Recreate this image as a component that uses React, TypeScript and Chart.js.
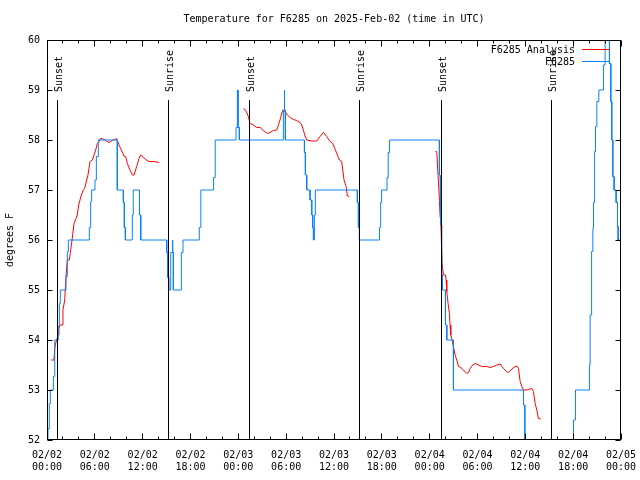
import React, { useEffect, useRef } from "react";
import { Chart, registerables } from "chart.js";

Chart.register(...registerables);

const TITLE = "Temperature for F6285 on 2025-Feb-02 (time in UTC)";
const Y_TITLE = "degrees F";
const SERIES_ANALYSIS = "F6285 Analysis";
const SERIES_OBS = "F6285";

// x is hours since 2025-02-02 00:00 UTC
const xTickDates = ["02/02", "02/02", "02/02", "02/02", "02/03", "02/03", "02/03", "02/03", "02/04", "02/04", "02/04", "02/04", "02/05"];
const xTickTimes = ["00:00", "06:00", "12:00", "18:00", "00:00", "06:00", "12:00", "18:00", "00:00", "06:00", "12:00", "18:00", "00:00"];
const yTickLabels = ["52", "53", "54", "55", "56", "57", "58", "59", "60"];

const sunHours = [1.29, 15.18, 25.38, 39.17, 49.46, 63.26];
const sunLabels = ["Sunset", "Sunrise", "Sunset", "Sunrise", "Sunset", "Sunrise"];

// Observed F6285
const obsHours = [
  0.125, 0.125, 0.29, 0.29, 0.42, 0.42, 0.8, 0.8, 0.92, 0.92, 1.0, 1.0, 1.42, 1.42, 1.55, 1.55, 1.67, 1.67,
  2.38, 2.38, 2.55, 2.55, 2.68, 2.68, 5.31, 5.31, 5.48, 5.48, 5.6, 5.6, 6.02, 6.02, 6.19, 6.19, 6.44, 6.44,
  8.82, 8.82, 9.58, 9.58, 9.7, 9.7, 9.83, 9.83, 10.7, 10.7, 10.82, 10.82, 11.6, 11.6, 11.76, 11.76,
  15.02, 15.02, 15.15, 15.15, 15.27, 15.27, 15.52, 15.52, 15.73, 15.73, 15.78, 15.78, 15.85, 15.85,
  16.85, 16.85, 17.06, 17.06, 19.1, 19.1, 19.3, 19.3, 20.9, 20.9, 21.1, 21.1,
  23.71, 23.71, 23.88, 23.88, 23.96, 23.96, 24.13, 24.13,
  29.65, 29.65, 29.75, 29.75, 29.82, 29.82, 29.9, 29.9,
  32.29, 32.29, 32.41, 32.41, 32.58, 32.58, 33.0, 33.0, 33.21, 33.21, 33.33, 33.33, 33.42, 33.42, 33.54, 33.54, 33.66, 33.66,
  38.93, 38.93, 39.06, 39.06, 39.19, 39.19, 41.7, 41.7, 41.85, 41.85, 41.97, 41.97, 42.65, 42.65, 42.8, 42.8, 42.97, 42.97,
  49.22, 49.22, 49.3, 49.3, 49.42, 49.42, 49.5, 49.5, 49.6, 49.6, 49.98, 49.98, 50.15, 50.15, 50.98, 50.98,
  59.77, 59.77, 59.93, 59.93, 60.1, 65.8, 66.04, 66.04, 66.29, 66.29,
  68.04, 68.04, 68.13, 68.13, 68.26, 68.26, 68.34, 68.34, 68.47, 68.47, 68.55, 68.55, 68.63, 68.63, 68.72, 68.72, 68.8, 68.8,
  68.97, 68.97, 69.22, 69.22, 69.8, 69.8, 70.01, 70.01, 70.22, 70.22, 70.55, 70.55, 70.72, 70.72, 70.84, 70.84, 70.97, 70.97,
  71.14, 71.14, 71.39, 71.39, 71.56, 71.56, 71.64, 71.64, 72.0,
];
const obsTemps = [
  51.8, 52.23, 52.23, 52.73, 52.73, 53, 53, 53.27, 53.27, 53.6, 53.6, 54, 54, 54.27, 54.27, 54.73, 54.73, 55,
  55, 55.27, 55.27, 55.77, 55.77, 56, 56, 56.25, 56.25, 56.77, 56.77, 57, 57, 57.2, 57.2, 57.67, 57.67, 58,
  58, 57, 57, 56.75, 56.75, 56.25, 56.25, 56, 56, 56.5, 56.5, 57, 57, 56.5, 56.5, 56,
  56, 55.75, 55.75, 55.25, 55.25, 55, 55, 55.75, 55.75, 56, 56, 55.75, 55.75, 55,
  55, 55.75, 55.75, 56, 56, 56.25, 56.25, 57, 57, 57.25, 57.25, 58,
  58, 58.25, 58.25, 59, 59, 58.25, 58.25, 58,
  58, 58.6, 58.6, 59, 59, 58.6, 58.6, 58,
  58, 57.75, 57.75, 57.3, 57.3, 57, 57, 56.8, 56.8, 56.5, 56.5, 56.25, 56.25, 56, 56, 56.5, 56.5, 57,
  57, 56.75, 56.75, 56.25, 56.25, 56, 56, 56.25, 56.25, 56.75, 56.75, 57, 57, 57.25, 57.25, 57.75, 57.75, 58,
  58, 57.3, 57.3, 56.8, 56.8, 56.3, 56.3, 55.3, 55.3, 55, 55, 54.3, 54.3, 54, 54, 53,
  53, 52.7, 52.7, 51.5, 51, 51, 51.5, 52.4, 52.4, 53,
  53, 53.5, 53.5, 54.5, 54.5, 55.23, 55.23, 55.77, 55.77, 56.23, 56.23, 56.75, 56.75, 57.27, 57.27, 57.77, 57.77, 58.27,
  58.27, 58.77, 58.77, 59, 59, 59.5, 59.5, 60.2, 60.2, 61, 61, 59.53, 59.53, 58.77, 58.77, 58, 58, 57.27,
  57.27, 57, 57, 56.75, 56.75, 56.27, 56.27, 56, 56,
];

// F6285 Analysis (null = break between runs)
const analysisHours = [
  0.54, 0.87, 1.0, 1.21, 1.4, 1.5, 1.63, 1.92, 2.0, 2.22, 2.38, 2.55, 2.8, 2.97, 3.14, 3.39, 3.64, 3.8, 3.97, 4.14,
  4.31, 4.56, 4.72, 4.98, 5.14, 5.4, 5.69, 5.9, 6.11, 6.31, 6.52, 6.73, 6.94, 7.36, 7.78, 8.2, 8.49, 8.74, 9.03, 9.33,
  9.66, 9.87, 10.08, 10.41, 10.71, 10.92, 11.25, 11.54, 11.75, 12.08, 12.38, 12.8, 13.43, 14.05,
  19.0,
  24.63, 24.9, 25.26, 25.47, 25.9, 26.31, 26.73, 27.14, 27.64, 27.98, 28.4, 28.82, 29.23, 29.57, 29.85, 30.15, 30.49,
  30.91, 31.33, 31.74, 31.95, 32.16, 32.37, 32.58, 33.21, 33.84, 34.25, 34.67, 35.08, 35.51, 35.84, 36.1, 36.35, 36.68,
  36.97, 37.1, 37.26, 37.52, 37.68, 37.93,
  43.0,
  48.73, 48.89, 48.98, 49.1, 49.23, 49.31, 49.4, 49.48, 49.56, 49.73, 49.98, 50.06, 50.15, 50.31, 50.48, 50.56, 50.65,
  50.82, 50.98, 51.19, 51.4, 51.61, 51.9, 52.24, 52.66, 52.87, 53.07, 53.41, 53.7, 54.12, 54.54, 55.17, 55.59, 56.0,
  56.42, 56.84, 57.26, 57.76, 58.09, 58.51, 58.93, 59.14, 59.35, 59.56, 59.77, 60.1, 60.39, 60.81, 61.02, 61.23, 61.44,
  61.64, 61.94,
];
const analysisTemps = [
  53.6, 53.6, 53.88, 54.0, 54.1, 54.23, 54.3, 54.3, 54.6, 54.8, 55.27, 55.6, 55.6, 55.8, 56.0, 56.33, 56.43, 56.5, 56.7, 56.8,
  56.9, 57.0, 57.03, 57.2, 57.3, 57.57, 57.6, 57.7, 57.8, 57.93, 57.97, 58.03, 58.03, 57.99, 57.95, 57.99, 58.01, 58.03, 57.9, 57.8,
  57.68, 57.67, 57.53, 57.4, 57.3, 57.3, 57.47, 57.63, 57.7, 57.65, 57.61, 57.57, 57.57, 57.55,
  null,
  58.63, 58.6, 58.47, 58.33, 58.3, 58.25, 58.25, 58.19, 58.13, 58.15, 58.19, 58.2, 58.4, 58.6, 58.57, 58.5, 58.45,
  58.41, 58.39, 58.35, 58.3, 58.2, 58.08, 58.0, 57.98, 57.98, 58.07, 58.15, 58.07, 57.97, 57.93, 57.83, 57.73, 57.6,
  57.57, 57.4, 57.2, 57.07, 56.88, 56.87,
  null,
  57.77, 57.77, 57.5, 57.17, 56.77, 56.47, 56.4, 55.93, 55.53, 55.3, 55.3, 55.2, 54.97, 54.73, 54.53, 54.3, 54.1,
  54.0, 53.87, 53.7, 53.6, 53.47, 53.45, 53.4, 53.33, 53.35, 53.43, 53.5, 53.53, 53.5, 53.47, 53.47, 53.45, 53.47,
  53.5, 53.52, 53.43, 53.35, 53.38, 53.45, 53.48, 53.43, 53.17, 53.07, 53.0, 53.0, 53.01, 53.03, 52.97, 52.73, 52.6,
  52.43, 52.42,
];

const RED = "#ff0000";
const BLUE = "#0a80ff";
const FONT_FAMILY = "'DejaVu Sans Mono', 'Liberation Mono', monospace";

const zip = (xs: number[], ys: (number | null)[]) => xs.map((x, i) => ({ x, y: ys[i] }));

const decorPlugin = {
  id: "gnuplotDecor",
  afterDatasetsDraw(chart: any) {
    const { ctx, chartArea, scales } = chart;
    const xs = scales.x;
    const ys = scales.y;
    const { left, right, top, bottom } = chartArea;
    ctx.save();
    ctx.lineWidth = 1;
    ctx.strokeStyle = "#000";
    ctx.fillStyle = "#000";
    ctx.font = `10px ${FONT_FAMILY}`;

    // sunrise / sunset markers
    sunHours.forEach((h, i) => {
      const px = Math.floor(xs.getPixelForValue(h)) + 0.5;
      ctx.beginPath();
      ctx.moveTo(px, bottom);
      ctx.lineTo(px, top + 60);
      ctx.stroke();
      ctx.save();
      ctx.translate(px + 1.5, top + 52);
      ctx.rotate(-Math.PI / 2);
      ctx.textAlign = "left";
      ctx.textBaseline = "middle";
      ctx.fillText(sunLabels[i], 0, 0);
      ctx.restore();
    });

    // border
    const bl = Math.floor(left) + 0.5;
    const br = Math.floor(right) - 0.5;
    const bt = Math.floor(top) + 0.5;
    const bb = Math.floor(bottom) - 0.5;
    ctx.strokeRect(bl, bt, br - bl, bb - bt);

    // y ticks (both sides)
    yTickLabels.forEach((lab) => {
      const py = Math.floor(ys.getPixelForValue(Number(lab))) + 0.5;
      ctx.beginPath();
      ctx.moveTo(bl, py);
      ctx.lineTo(bl + 5, py);
      ctx.moveTo(br - 5, py);
      ctx.lineTo(br, py);
      ctx.stroke();
    });
    // x ticks every 2 hours, major every 6
    for (let h = 0; h <= 72; h += 2) {
      const px = Math.floor(xs.getPixelForValue(h)) + 0.5;
      const len = h % 6 === 0 ? 6 : 3;
      ctx.beginPath();
      ctx.moveTo(px, bb);
      ctx.lineTo(px, bb - len);
      ctx.moveTo(px, bt);
      ctx.lineTo(px, bt + len);
      ctx.stroke();
    }

    // legend
    ctx.textAlign = "right";
    ctx.textBaseline = "middle";
    const rows = [
      { label: SERIES_ANALYSIS, color: RED, y: 50 },
      { label: SERIES_OBS, color: BLUE, y: 62 },
    ];
    rows.forEach((r) => {
      ctx.fillStyle = "#000";
      ctx.fillText(r.label, 575, r.y);
      ctx.strokeStyle = r.color;
      ctx.beginPath();
      ctx.moveTo(582, r.y - 0.5);
      ctx.lineTo(610, r.y - 0.5);
      ctx.stroke();
    });

    // title
    ctx.fillStyle = "#000";
    ctx.textAlign = "center";
    ctx.textBaseline = "middle";
    ctx.fillText(TITLE, (left + right) / 2, 19);
    ctx.restore();
  },
};

export default function App() {
  const canvasRef = useRef<HTMLCanvasElement | null>(null);

  useEffect(() => {
    const canvas = canvasRef.current;
    if (!canvas) return;
    const chart = new Chart(canvas, {
      type: "line",
      data: {
        datasets: [
          {
            label: SERIES_OBS,
            data: zip(obsHours, obsTemps),
            borderColor: BLUE,
            borderWidth: 1,
            pointRadius: 0,
            tension: 0,
            fill: false,
            order: 0,
            clip: 0,
          },
          {
            label: SERIES_ANALYSIS,
            data: zip(analysisHours, analysisTemps),
            borderColor: RED,
            borderWidth: 1,
            pointRadius: 0,
            tension: 0,
            fill: false,
            spanGaps: false,
            order: 1,
            clip: 0,
          },
        ],
      },
      options: {
        animation: false,
        responsive: false,
        devicePixelRatio: 1,
        layout: { padding: { top: 40, right: 19, left: 0, bottom: 0 } },
        plugins: {
          legend: { display: false },
          title: { display: false },
          tooltip: { enabled: false },
        },
        scales: {
          x: {
            type: "linear",
            min: 0,
            max: 72,
            grid: { display: false, drawTicks: false },
            border: { display: false },
            ticks: {
              stepSize: 6,
              autoSkip: false,
              maxRotation: 0,
              minRotation: 0,
              padding: 9,
              color: "#000",
              font: { family: FONT_FAMILY, size: 10 },
              callback: (v: any) => {
                const i = Math.round(Number(v) / 6);
                return [xTickDates[i], xTickTimes[i]];
              },
            },
            afterFit: (s: any) => {
              s.height = 40;
              s.paddingLeft = 0;
              s.paddingRight = 0;
            },
          },
          y: {
            type: "linear",
            min: 52,
            max: 60,
            grid: { display: false, drawTicks: false },
            border: { display: false },
            ticks: {
              stepSize: 1,
              padding: 7,
              color: "#000",
              font: { family: FONT_FAMILY, size: 10 },
              callback: (v: any) => yTickLabels[Math.round(Number(v)) - 52],
            },
            title: {
              display: true,
              text: Y_TITLE,
              color: "#000",
              font: { family: FONT_FAMILY, size: 10 },
              padding: { top: 4, bottom: 0 },
            },
            afterFit: (s: any) => {
              s.width = 47;
              s.paddingTop = 0;
              s.paddingBottom = 0;
            },
          },
        },
      },
      plugins: [decorPlugin],
    });
    return () => chart.destroy();
  }, []);

  return (
    <div style={{ position: "absolute", left: 0, top: 0, width: 640, height: 480, background: "#fff" }}>
      <canvas ref={canvasRef} width={640} height={480} style={{ width: 640, height: 480, display: "block" }} />
    </div>
  );
}
